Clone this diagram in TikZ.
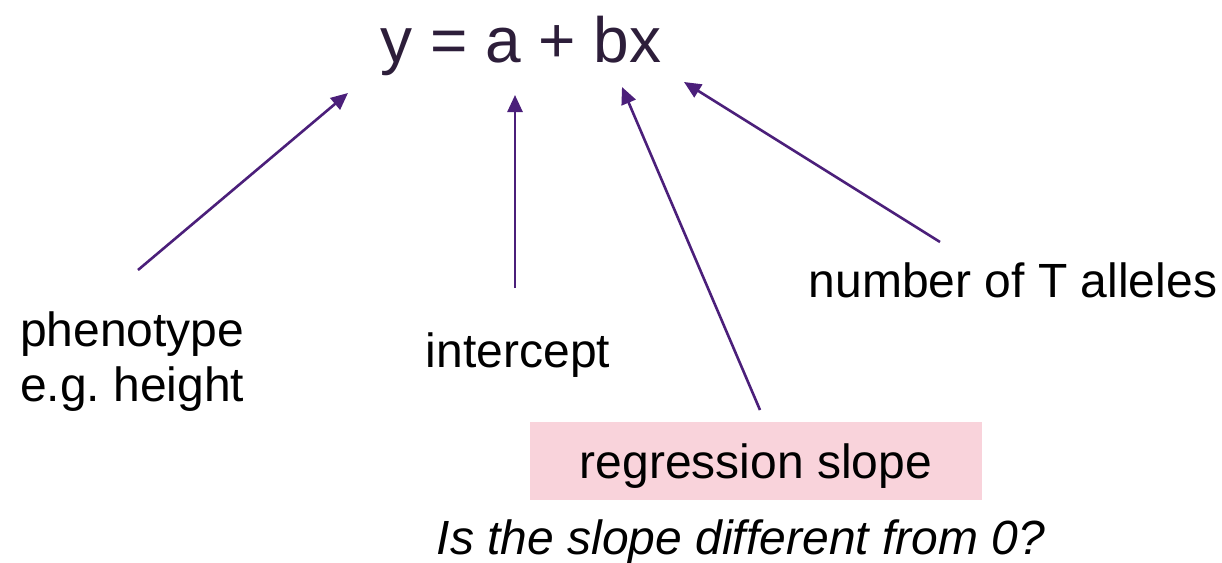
\documentclass[tikz,border=0pt]{standalone}
\usepackage{fontspec}
\setmainfont{Liberation Sans}
\usetikzlibrary{arrows.meta}
\definecolor{arrowpurple}{HTML}{4B1F7A}
\definecolor{eqcol}{HTML}{2D1E3A}
\definecolor{pinkbox}{HTML}{F9D3DB}
\tikzset{
  lbl/.style={inner sep=0pt, font=\fontsize{48}{55}\selectfont, text=black},
  arr/.style={draw=arrowpurple, line width=2.6pt, -{Triangle[length=17pt,width=15pt]}},
}
\frenchspacing
\begin{document}
\begin{tikzpicture}[x=1pt,y=-1pt]
\useasboundingbox (0,0) rectangle (1222,562);
\node[inner sep=0pt, anchor=base, font=\fontsize{64}{76}\selectfont, text=eqcol] (eq) at (521,62) {y = a + bx};
\node[lbl, anchor=base west, align=left] (pheno) at (20,401) {phenotype\\e.g.\ height};
\node[lbl, anchor=base] (icpt) at (518,367) {intercept};
\node[lbl, anchor=base] (nT) at (1013,297) {number of T alleles};
\node[fill=pinkbox, minimum width=452pt, minimum height=78pt, inner sep=0pt] (slope) at (756,461) {};
\node[lbl, anchor=base] (slopetxt) at (756,478) {regression slope};
\node[lbl, anchor=base, font=\fontsize{48}{54}\selectfont\itshape] (q) at (741,554) {Is the slope different from 0?};
\coordinate (a1s) at (138,270); \coordinate (a1e) at (348,93);
\coordinate (a2s) at (515,288); \coordinate (a2e) at (515,95);
\coordinate (a3s) at (760,410); \coordinate (a3e) at (622,87);
\coordinate (a4s) at (940,242); \coordinate (a4e) at (684,82);
\draw[arr] (a1s) -- (a1e);
\draw[arr] (a2s) -- (a2e);
\draw[arr] (a3s) -- (a3e);
\draw[arr] (a4s) -- (a4e);
\end{tikzpicture}
\end{document}
